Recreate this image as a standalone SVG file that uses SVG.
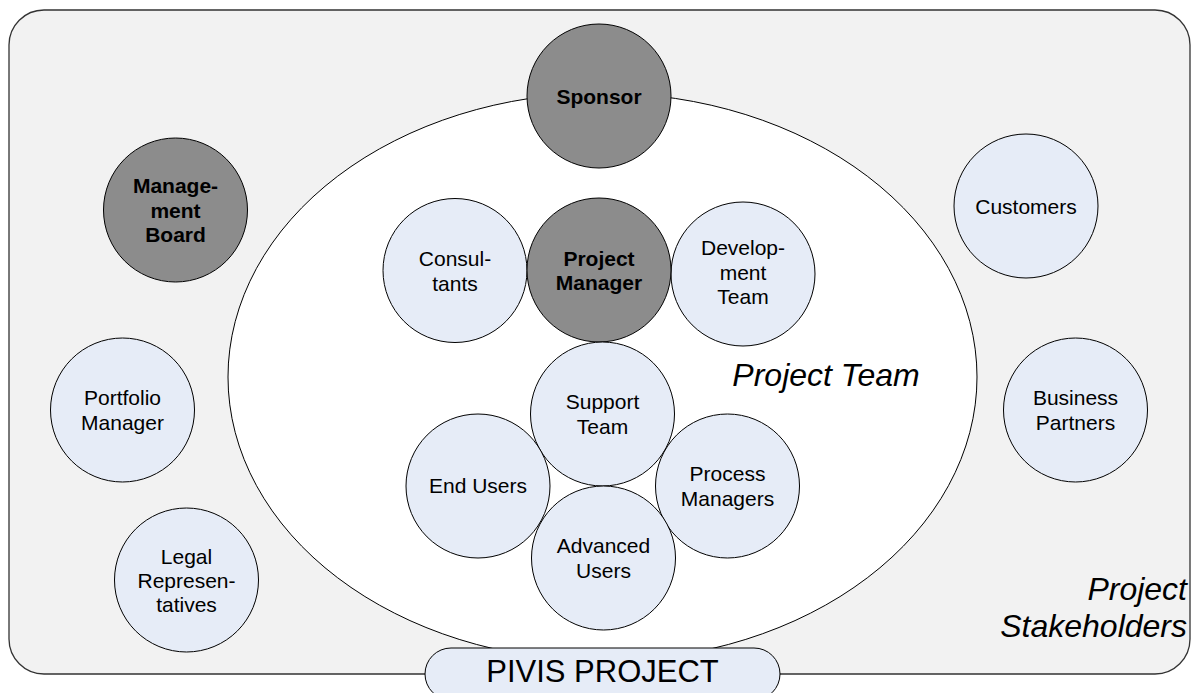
<svg xmlns="http://www.w3.org/2000/svg" width="1192" height="693" viewBox="0 0 1192 693">
<style>
text{font-family:"Liberation Sans",Arial,sans-serif;fill:#000;text-anchor:middle}
.lbl{font-size:21px}
.b{font-size:21px;font-weight:bold}
.it{font-size:32px;font-style:italic}
.c{fill:#E6ECF7;stroke:#000;stroke-width:1}
.d{fill:#8C8C8C;stroke:#000;stroke-width:1}
</style>
<g id="stakeholders-area">
<rect x="9" y="10" width="1181" height="664" rx="35" ry="35" fill="#F2F2F2" stroke="#333" stroke-width="1.3"/>
<text class="it" x="1187" y="600" text-anchor="end" style="text-anchor:end">Project</text>
<text class="it" x="1187" y="637" style="text-anchor:end">Stakeholders</text>
</g>
<g id="project-team-area">
<ellipse cx="602.5" cy="377" rx="374.5" ry="284" fill="#FFFFFF" stroke="#000" stroke-width="1"/>
<text class="it" x="826" y="386">Project Team</text>
</g>
<g id="connectors"></g>
<g id="sponsor"><circle class="d" cx="599" cy="96" r="72"/><text class="b" x="599" y="103.5">Sponsor</text></g>
<g id="management-board"><circle class="d" cx="175.5" cy="210" r="72"/>
<text class="b" x="175.5" y="193">Manage-</text><text class="b" x="175.5" y="217.5">ment</text><text class="b" x="175.5" y="242">Board</text></g>
<g id="customers"><circle class="c" cx="1026" cy="206" r="72"/><text class="lbl" x="1026" y="213.5">Customers</text></g>
<g id="portfolio-manager"><circle class="c" cx="122.5" cy="410" r="72"/>
<text class="lbl" x="122.5" y="405">Portfolio</text><text class="lbl" x="122.5" y="429.5">Manager</text></g>
<g id="business-partners"><circle class="c" cx="1075.5" cy="410" r="72"/>
<text class="lbl" x="1075.5" y="405">Business</text><text class="lbl" x="1075.5" y="429.5">Partners</text></g>
<g id="legal-representatives"><circle class="c" cx="186.5" cy="580" r="72"/>
<text class="lbl" x="186.5" y="564">Legal</text><text class="lbl" x="186.5" y="588">Represen-</text><text class="lbl" x="186.5" y="612">tatives</text></g>
<g id="consultants"><circle class="c" cx="455" cy="270.5" r="72"/>
<text class="lbl" x="455" y="266">Consul-</text><text class="lbl" x="455" y="290.5">tants</text></g>
<g id="development-team"><circle class="c" cx="743" cy="274" r="72"/>
<text class="lbl" x="743" y="254.5">Develop-</text><text class="lbl" x="743" y="279.5">ment</text><text class="lbl" x="743" y="304">Team</text></g>
<g id="project-manager"><circle class="d" cx="599" cy="270" r="72"/>
<text class="b" x="599" y="265.5">Project</text><text class="b" x="599" y="290">Manager</text></g>
<g id="support-team"><circle class="c" cx="602.5" cy="414" r="72"/>
<text class="lbl" x="602.5" y="409">Support</text><text class="lbl" x="602.5" y="433.5">Team</text></g>
<g id="end-users"><circle class="c" cx="478" cy="486" r="72"/><text class="lbl" x="478" y="493">End Users</text></g>
<g id="process-managers"><circle class="c" cx="727.5" cy="486" r="72"/>
<text class="lbl" x="727.5" y="481">Process</text><text class="lbl" x="727.5" y="505.5">Managers</text></g>
<g id="advanced-users"><circle class="c" cx="603.5" cy="558" r="72"/>
<text class="lbl" x="603.5" y="553">Advanced</text><text class="lbl" x="603.5" y="577.5">Users</text></g>
<g id="pivis-project"><rect class="c" x="425" y="648" width="355" height="52" rx="26" ry="26"/>
<text x="602.5" y="682" style="font-size:31px">PIVIS PROJECT</text></g>
</svg>
